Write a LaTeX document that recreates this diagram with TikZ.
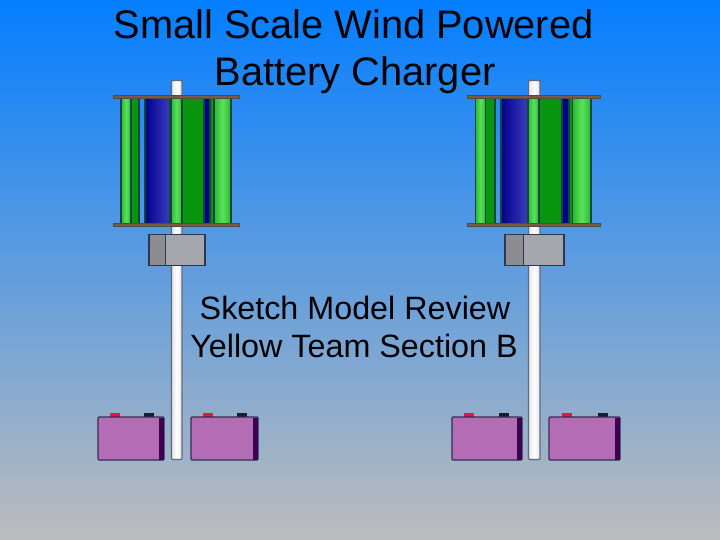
\documentclass[tikz,border=0pt]{standalone}
\usepackage{fontspec}
\setmainfont{Liberation Sans}
\definecolor{bgtop}{RGB}{4,126,255}
\definecolor{bgmid}{RGB}{98,163,226}
\definecolor{bgbot}{RGB}{188,188,188}
\definecolor{lgreen}{RGB}{40,185,50}
\definecolor{lgreenhi}{RGB}{90,225,90}
\definecolor{dgreen}{RGB}{8,150,15}
\definecolor{navy}{RGB}{0,0,140}
\definecolor{blhi}{RGB}{60,60,190}
\definecolor{edgec}{RGB}{20,70,65}
\definecolor{brownc}{RGB}{125,90,60}
\definecolor{polec}{RGB}{245,245,250}
\definecolor{polee}{RGB}{95,105,125}
\definecolor{gena}{RGB}{140,140,145}
\definecolor{genb}{RGB}{165,165,172}
\definecolor{gene}{RGB}{45,55,80}
\definecolor{batt}{RGB}{180,108,180}
\definecolor{battd}{RGB}{60,0,80}
\definecolor{batte}{RGB}{50,45,85}
\definecolor{termr}{RGB}{215,30,50}
\definecolor{termk}{RGB}{25,30,40}
\tikzset{
  ttl/.style={font=\fontsize{39.8}{40}\selectfont,text=black,inner sep=0pt,anchor=base},
  sub/.style={font=\fontsize{32.3}{33}\selectfont,text=black,inner sep=0pt,anchor=base},
  blade/.style={draw=edgec,line width=1.1pt},
  disc/.style={draw=black!70,fill=brownc,line width=1pt},
  polebar/.style={draw=polee,line width=1.2pt,left color=polec!85!gray,right color=polec!85!gray,middle color=white,rounded corners=1pt},
  gen/.style={draw=gene,line width=1.2pt},
  battbody/.style={draw=batte,fill=batt,line width=1.1pt,rounded corners=1pt},
  battside/.style={fill=battd},
  term/.style={line width=0.5pt}
}
\newcommand{\mybatt}[4]{%
  \fill[termr,term] (#1,413) rectangle ++(9.5,4.5);
  \fill[termk,term] (#2,413) rectangle ++(9.5,4.5);
  \draw[battbody] (#3,417) rectangle (#4,460);
  \fill[battside] (#4-5,417.5) rectangle (#4,459.5);
}
\newcommand{\myblade}[3]{\draw[blade,#3] (#1,98) rectangle (#2,224);}
\begin{document}
\begin{tikzpicture}[x=1pt,y=-1pt]
\useasboundingbox (0,0) rectangle (720,540);
\shade[top color=bgtop,middle color=bgmid,bottom color=bgbot] (0,0) rectangle (720,540);
% left pole
\draw[polebar] (171.5,80.5) rectangle (182,459.5);
% left turbine
\myblade{121}{131}{left color=lgreen,right color=lgreen,middle color=lgreenhi}
\myblade{131}{139}{fill=dgreen}
\myblade{145}{170}{left color=navy,right color=blhi}
\myblade{204}{210}{fill=navy}
\myblade{182}{204}{fill=dgreen}
\myblade{171}{182}{left color=lgreen,right color=lgreen,middle color=lgreenhi}
\myblade{210}{214}{fill=dgreen}
\myblade{214}{231}{left color=lgreen,right color=lgreen,middle color=lgreenhi}
\draw[disc] (113.5,95.5) rectangle (239.5,98.5);
\draw[disc] (113.5,224) rectangle (239.5,227);
% left generator
\fill[genb] (149,234.5) rectangle (205,265.5);
\fill[gena] (149,234.5) rectangle (165,265.5);
\draw[gen] (165.5,234.5) -- (165.5,265.5);
\draw[gen] (149,234.5) rectangle (205,265.5);
% left batteries
\mybatt{110}{144}{98}{164}
\mybatt{203}{237}{191}{258}
% right pole
\draw[polebar] (528.5,80.5) rectangle (540,459.5);
% right turbine
\myblade{475.5}{485.5}{left color=lgreen,right color=lgreen,middle color=lgreenhi}
\myblade{485.5}{495}{fill=dgreen}
\myblade{501}{527.5}{left color=navy,right color=blhi}
\myblade{562}{569}{fill=navy}
\myblade{539}{562}{fill=dgreen}
\myblade{528}{539}{left color=lgreen,right color=lgreen,middle color=lgreenhi}
\myblade{569}{572.5}{fill=dgreen}
\myblade{572.5}{591}{left color=lgreen,right color=lgreen,middle color=lgreenhi}
\draw[disc] (467.5,95.5) rectangle (600.5,98.5);
\draw[disc] (467.5,224) rectangle (600.5,227);
% right generator
\fill[genb] (505,234.5) rectangle (564,265.5);
\fill[gena] (505,234.5) rectangle (523,265.5);
\draw[gen] (523.5,234.5) -- (523.5,265.5);
\draw[gen] (505,234.5) rectangle (564,265.5);
% right batteries
\mybatt{464}{499}{452}{522}
\mybatt{562}{598}{549}{620}
% text
\node[ttl] (t1) at (353.5,39) {Small Scale Wind Powered};
\node[ttl] (t2) at (355,86) {Battery Charger};
\node[sub] (s1) at (355,319) {Sketch Model Review};
\node[sub] (s2) at (354,357) {Yellow Team Section B};
\end{tikzpicture}
\end{document}
